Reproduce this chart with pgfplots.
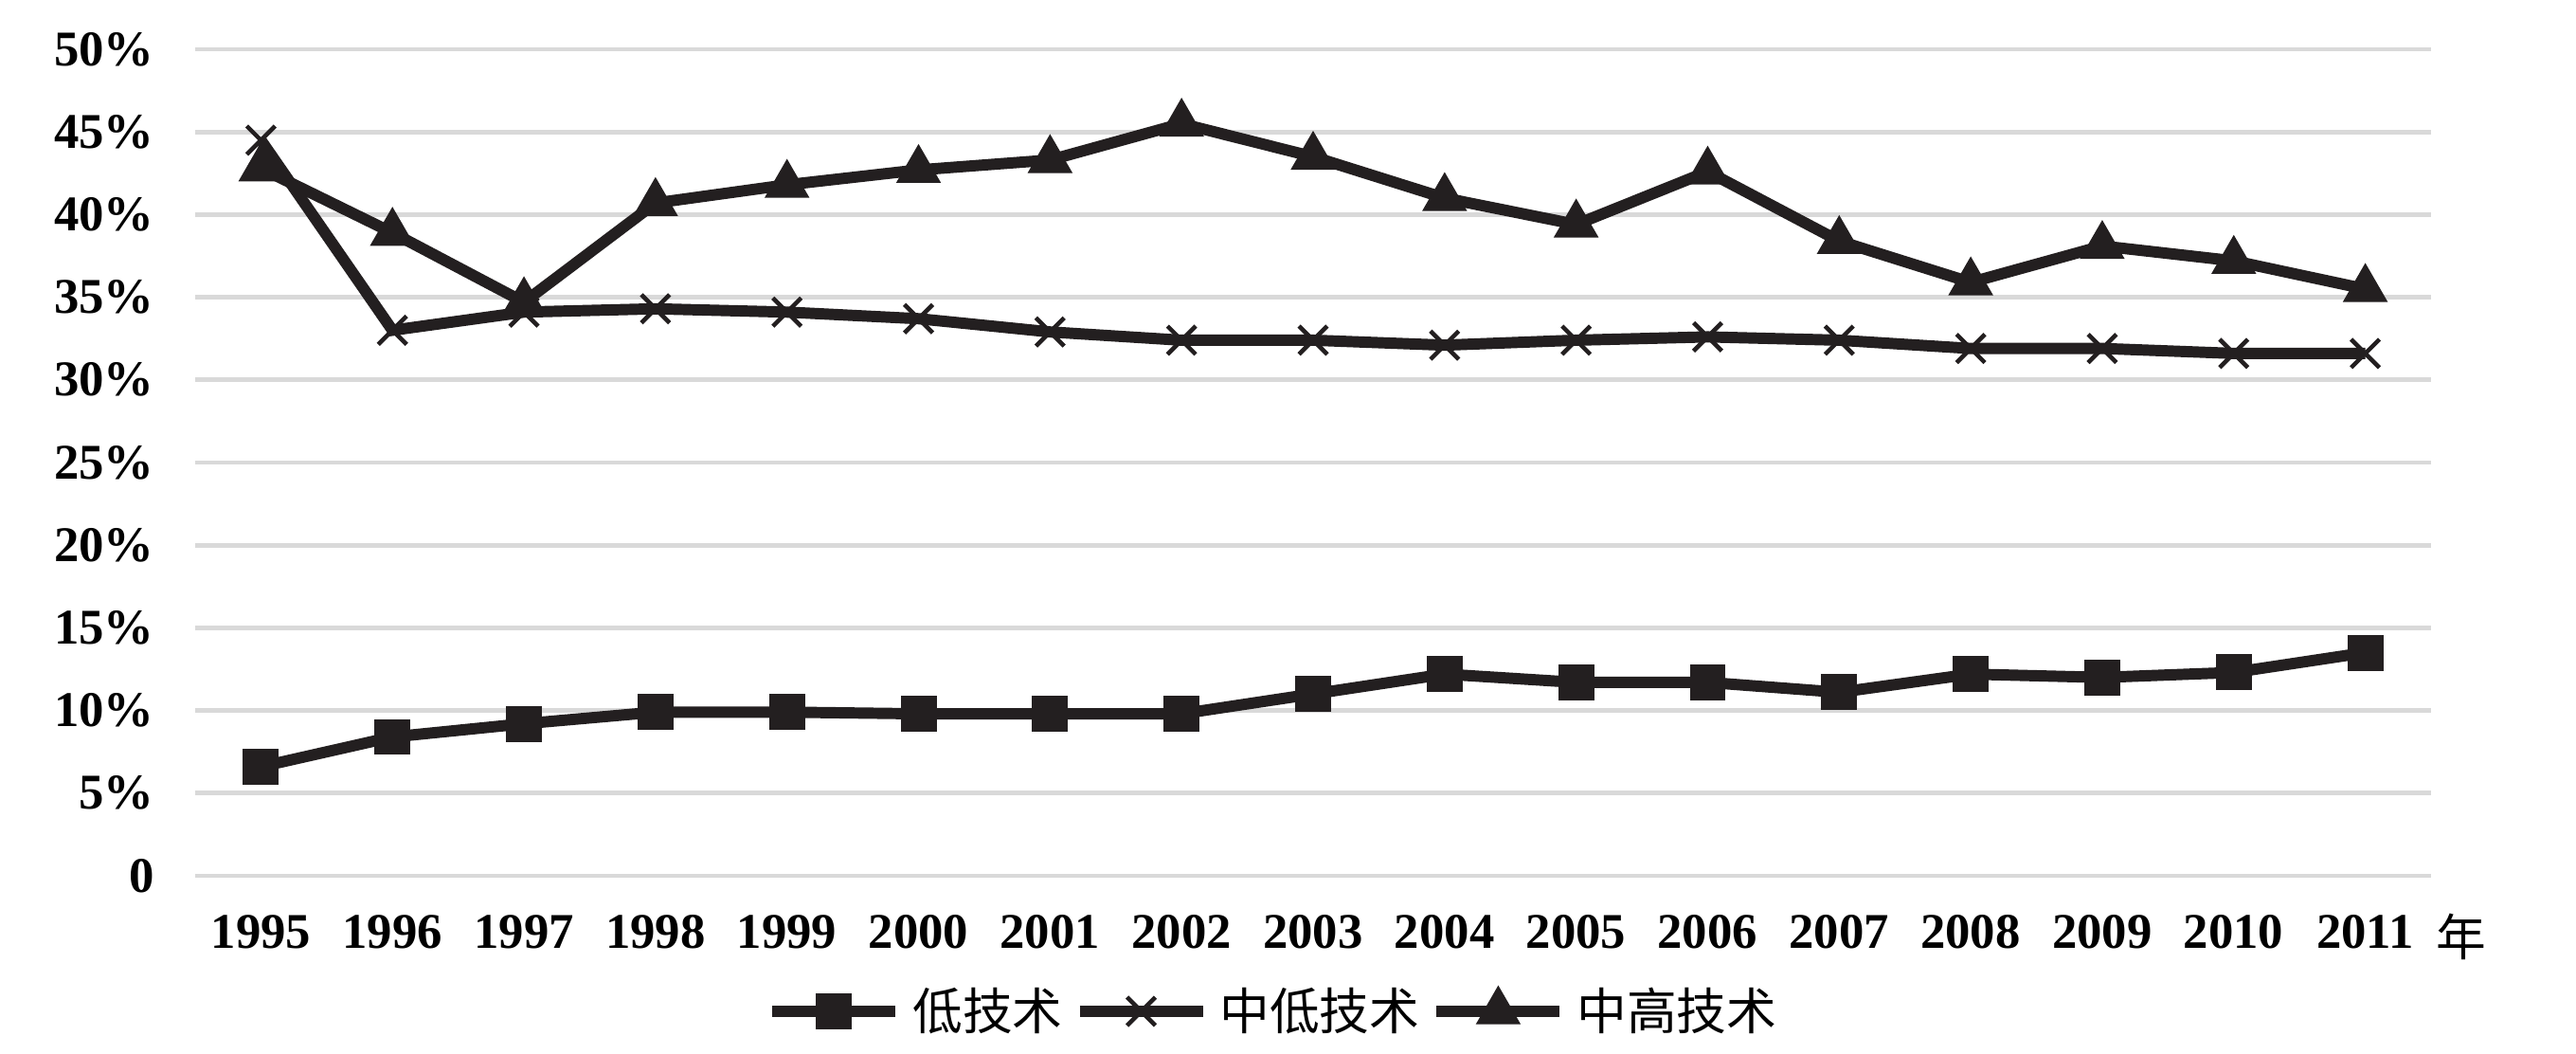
\documentclass[border=0pt]{standalone}
\usepackage{pgfplots}
\pgfplotsset{compat=1.18}
\usepackage{fontspec}
\setmainfont{Liberation Serif}
\newfontfamily\cjk{Noto Sans CJK SC}
\definecolor{ln}{RGB}{35,31,32}
\definecolor{gr}{RGB}{217,217,217}
\pgfplotstableread{
year low midlow midhigh
1995 6.6 44.5 42.8
1996 8.4 33.0 38.9
1997 9.2 34.1 34.7
1998 9.9 34.3 40.7
1999 9.9 34.1 41.8
2000 9.8 33.7 42.7
2001 9.8 32.9 43.3
2002 9.8 32.4 45.5
2003 11.0 32.4 43.5
2004 12.2 32.1 41.0
2005 11.7 32.4 39.4
2006 11.7 32.6 42.6
2007 11.1 32.4 38.4
2008 12.2 31.9 35.9
2009 12.0 31.9 38.1
2010 12.3 31.6 37.2
2011 13.5 31.6 35.5
}\data
\begin{document}
\begin{tikzpicture}
\begin{axis}[
  scale only axis,
  width=23.6cm, height=8.72cm,
  xmin=1994.5, xmax=2011.5,
  ymin=0, ymax=50,
  axis line style={draw=none},
  major tick length=0pt,
  xtick={1995,...,2011},
  xticklabels={1995,1996,1997,1998,1999,2000,2001,2002,2003,2004,2005,2006,2007,2008,2009,2010,2011},
  ytick={0,5,...,50},
  yticklabels={0,5\%,10\%,15\%,20\%,25\%,30\%,35\%,40\%,45\%,50\%},
  ymajorgrids,
  grid style={gr, line width=1.4pt},
  tick label style={font=\fontsize{15}{18}\selectfont\bfseries},
  yticklabel style={xshift=-0.31cm},
  xticklabel style={yshift=-0.29cm},
  clip=false,
  legend columns=3,
  legend style={draw=none, fill=none, at={(0.483,0)}, anchor=center, yshift=-1.43cm,
    font=\fontsize{15}{18}\selectfont\cjk, column sep=0.05cm, inner sep=0pt},
  legend image code/.code={\draw[mark repeat=2,mark phase=2] plot coordinates {(0cm,0cm)(0.65cm,0cm)(1.3cm,0cm)};},
  every axis plot/.append style={color=ln, line width=3.4pt, mark options={solid}},
]
\addplot[color=ln, mark=square*, mark size=3.7pt] table[x=year,y=low] {\data};
\addlegendentry{低技术}
\addplot[color=ln, mark=x, mark size=6pt, mark options={line width=1.3pt}] table[x=year,y=midlow] {\data};
\addlegendentry{中低技术}
\addplot[color=ln, mark=triangle*, mark size=4.4pt] table[x=year,y=midhigh] {\data};
\addlegendentry{中高技术}
\node[anchor=west, font=\fontsize{15}{18}\selectfont\cjk, inner sep=0pt] at (rel axis cs:1,0) [xshift=0.05cm, yshift=-0.64cm] {年};
\end{axis}
\pgfresetboundingbox
\path ([xshift=-2.06cm,yshift=-1.88cm]current axis.south west) rectangle ([xshift=1.53cm,yshift=0.52cm]current axis.north east);
\end{tikzpicture}
\end{document}
